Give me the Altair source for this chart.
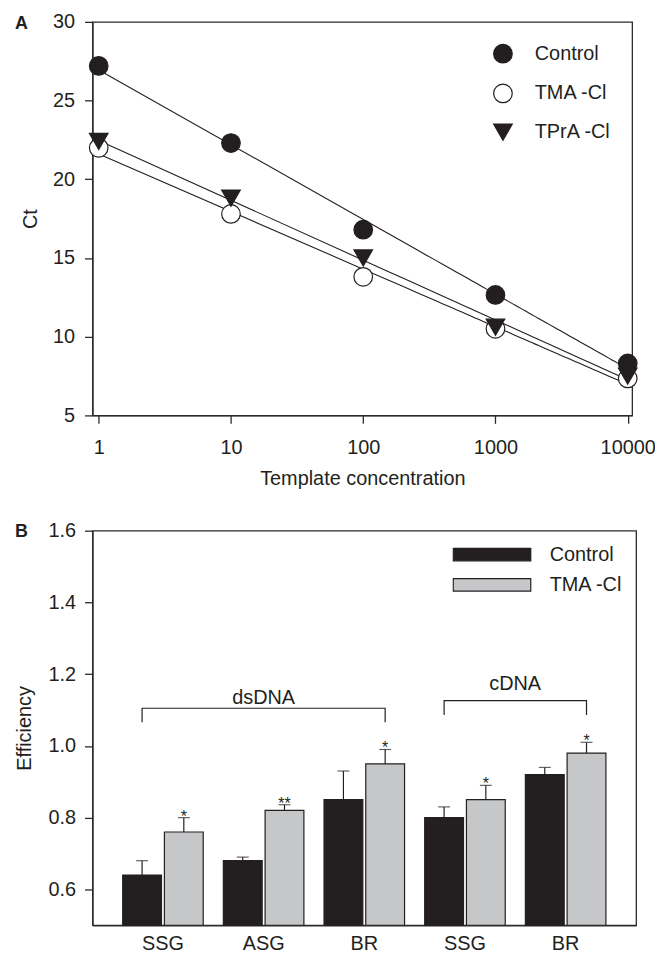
import altair as alt
import pandas as pd

DARK = "#231f20"
GRAY = "#c6c7c9"
AXC = "#2b2b2b"
FONT = "Liberation Sans"

# ---------------- Panel A data ----------------
conc = [1, 10, 100, 1000, 10000]
ct_control = [27.2, 22.3, 16.8, 12.65, 8.3]
ct_tma = [22.0, 17.8, 13.8, 10.5, 7.35]
ct_tpra = [22.4, 18.8, 15.0, 10.6, 7.5]
series_a = ["Control", "TMA -Cl", "TPrA -Cl"]
ct_ticks = [5, 10, 15, 20, 25, 30]

# ---------------- Panel B data ----------------
groups = ["dsDNA SSG", "dsDNA ASG", "dsDNA BR", "cDNA SSG", "cDNA BR"]
series_b = ["Control", "TMA -Cl"]
eff_control = [0.64, 0.68, 0.85, 0.80, 0.92]
err_control = [0.04, 0.01, 0.08, 0.03, 0.02]
eff_tma = [0.76, 0.82, 0.95, 0.85, 0.98]
err_tma = [0.04, 0.016, 0.04, 0.04, 0.03]
sig_control = ["", "", "", "", ""]
sig_tma = ["*", "**", "*", "*", "*"]
eff_ticks = [0.6, 0.8, 1.0, 1.2, 1.4, 1.6]

bracket_names = ["dsDNA", "cDNA"]
bracket_from = ["dsDNA SSG", "cDNA SSG"]
bracket_to = ["dsDNA BR", "cDNA BR"]
bracket_top = [1.105, 1.126]
bracket_bottom = [1.066, 1.086]
bracket_label_y = [1.117, 1.157]
bracket_label_group = ["dsDNA ASG", "cDNA SSG"]

panel_labels = ["A", "B"]

# ---------------- tables ----------------
rows_a = []
for s, vals in zip(series_a, [ct_control, ct_tma, ct_tpra]):
    for c, v in zip(conc, vals):
        rows_a.append({"series": s, "conc": c, "ct": v})
df_a = pd.DataFrame(rows_a)

rows_b = []
for s, vals, errs, sigs in [(series_b[0], eff_control, err_control, sig_control),
                            (series_b[1], eff_tma, err_tma, sig_tma)]:
    for g, v, e, sg in zip(groups, vals, errs, sigs):
        rows_b.append({"group": g, "series": s, "value": v, "upper": v + e, "sig": sg})
df_b = pd.DataFrame(rows_b)

rows_br = []
for n, f, t, top, bot in zip(bracket_names, bracket_from, bracket_to, bracket_top, bracket_bottom):
    rows_br += [
        {"bracket": n, "group": f, "series": series_b[0], "value": bot, "idx": 0},
        {"bracket": n, "group": f, "series": series_b[0], "value": top, "idx": 1},
        {"bracket": n, "group": t, "series": series_b[1], "value": top, "idx": 2},
        {"bracket": n, "group": t, "series": series_b[1], "value": bot, "idx": 3},
    ]
df_br = pd.DataFrame(rows_br)
df_brl = pd.DataFrame({"bracket": bracket_names, "group": bracket_label_group, "value": bracket_label_y})

# ---------------- Panel A ----------------
xa = alt.X("conc:Q", scale=alt.Scale(type="log", domain=[0.897, 10800], nice=False),
           axis=alt.Axis(values=conc, format="d", title="Template concentration",
                         tickSize=8, labelPadding=14, titlePadding=12, labelFlush=False))
ya = alt.Y("ct:Q", scale=alt.Scale(domain=[5, 30], nice=False, zero=False),
           axis=alt.Axis(values=ct_ticks, title="Ct", tickSize=8, labelPadding=10, titlePadding=12))
leg_a = alt.Legend(title=None, orient="none", legendX=403, legendY=22, symbolSize=350,
                   labelOffset=22, rowPadding=16, symbolStrokeWidth=1.2,
                   labelFontSize=20, padding=0)

base_a = alt.Chart(df_a)
lines_a = base_a.transform_regression("conc", "ct", groupby=["series"], method="log").mark_line(
    color=DARK, strokeWidth=1.1).encode(x=xa, y=ya, detail="series:N")
points_a = base_a.mark_point(filled=True, size=350, strokeWidth=1.2, opacity=1).encode(
    x=xa, y=ya,
    fill=alt.Fill("series:N", sort=series_a, scale=alt.Scale(domain=series_a, range=[DARK, "white", DARK]), legend=leg_a),
    shape=alt.Shape("series:N", sort=series_a, scale=alt.Scale(domain=series_a, range=["circle", "circle", "triangle-down"]), legend=leg_a),
    stroke=alt.Stroke("series:N", sort=series_a, scale=alt.Scale(domain=series_a, range=[DARK, DARK, DARK]), legend=leg_a),
)
label_a = alt.Chart(pd.DataFrame({"t": [panel_labels[0]]})).mark_text(
    fontSize=18, fontWeight="bold", align="left", baseline="middle", font=FONT, color=DARK
).encode(text="t:N", x=alt.value(-78), y=alt.value(2))
panel_a = alt.layer(lines_a, points_a, label_a).properties(width=543, height=396)

# ---------------- Panel B ----------------
xb = alt.X("group:N", sort=groups, scale=alt.Scale(domain=groups, paddingInner=0.2, paddingOuter=0.3),
           axis=alt.Axis(title=None, ticks=False, labelAngle=0, labelPadding=8,
                         labelExpr="split(datum.label, ' ')[1]"))
xob = alt.XOffset("series:N", sort=series_b, scale=alt.Scale(domain=series_b, paddingInner=0.07))
yb_scale = alt.Scale(domain=[0.5, 1.6], nice=False, zero=False)
yb_axis = alt.Axis(values=eff_ticks, format=".1f", title="Efficiency", tickSize=8, labelPadding=9, titlePadding=14)
yb = alt.Y("value:Q", scale=yb_scale, axis=yb_axis)
yb_up = alt.Y("upper:Q", scale=yb_scale, axis=yb_axis)
# legends of a vconcat live at the top level, positioned from panel A's plot origin
leg_b = alt.Legend(title=None, orient="none", legendX=362, legendY=528,
                   symbolType="M-1,-0.1615L1,-0.1615L1,0.1615L-1,0.1615Z", symbolSize=6084,
                   clipHeight=16, rowPadding=10.5, labelOffset=18, symbolStrokeColor=DARK,
                   symbolStrokeWidth=1.2, labelFontSize=20, padding=0)

base_b = alt.Chart(df_b)
bars = base_b.mark_bar(stroke=DARK, strokeWidth=1.2).encode(
    x=xb, xOffset=xob, y=yb, y2=alt.datum(0.5),
    color=alt.Color("series:N", sort=series_b, scale=alt.Scale(domain=series_b, range=[DARK, GRAY]), legend=leg_b),
)
err_rules = base_b.mark_rule(color=DARK, strokeWidth=1.2).encode(x=xb, xOffset=xob, y=yb, y2="upper:Q")
err_caps = base_b.mark_tick(color=DARK, thickness=1.2, size=12).encode(x=xb, xOffset=xob, y=yb_up)
stars = base_b.mark_text(fontSize=16, baseline="alphabetic", dy=4, font=FONT, color=DARK).encode(
    x=xb, xOffset=xob, y=yb_up, text="sig:N")
brackets = alt.Chart(df_br).mark_line(color=DARK, strokeWidth=1.2).encode(
    x=xb, xOffset=xob, y=yb, detail="bracket:N", order="idx:Q")
brl1 = alt.Chart(df_brl).transform_filter(alt.datum.bracket == bracket_names[0]).mark_text(
    fontSize=20, baseline="alphabetic", font=FONT, color=DARK).encode(x=xb, y=yb, text="bracket:N")
brl2 = alt.Chart(df_brl).transform_filter(alt.datum.bracket == bracket_names[1]).mark_text(
    fontSize=20, baseline="alphabetic", font=FONT, color=DARK, dx=50.5).encode(x=xb, y=yb, text="bracket:N")
label_b = alt.Chart(pd.DataFrame({"t": [panel_labels[1]]})).mark_text(
    fontSize=18, fontWeight="bold", align="left", baseline="middle", font=FONT, color=DARK
).encode(text="t:N", x=alt.value(-78), y=alt.value(1.5))
panel_b = alt.layer(bars, err_rules, err_caps, stars, brackets, brl1, brl2, label_b).properties(width=547, height=397)

chart = alt.vconcat(panel_a, panel_b, spacing=30).properties(
    padding={"left": 5, "top": 0, "right": -2, "bottom": -4}
).configure_axis(
    labelFont=FONT, titleFont=FONT, labelFontSize=20, titleFontSize=20,
    labelColor=DARK, titleColor=DARK, domainColor=AXC, tickColor=AXC,
    domainWidth=1.3, tickWidth=1.3, grid=False, titleFontWeight="normal",
).configure_view(stroke=AXC, strokeWidth=1.3).configure_legend(labelFont=FONT, labelColor=DARK)

chart.save("out.html", embed_options={"renderer": "svg", "actions": False})
